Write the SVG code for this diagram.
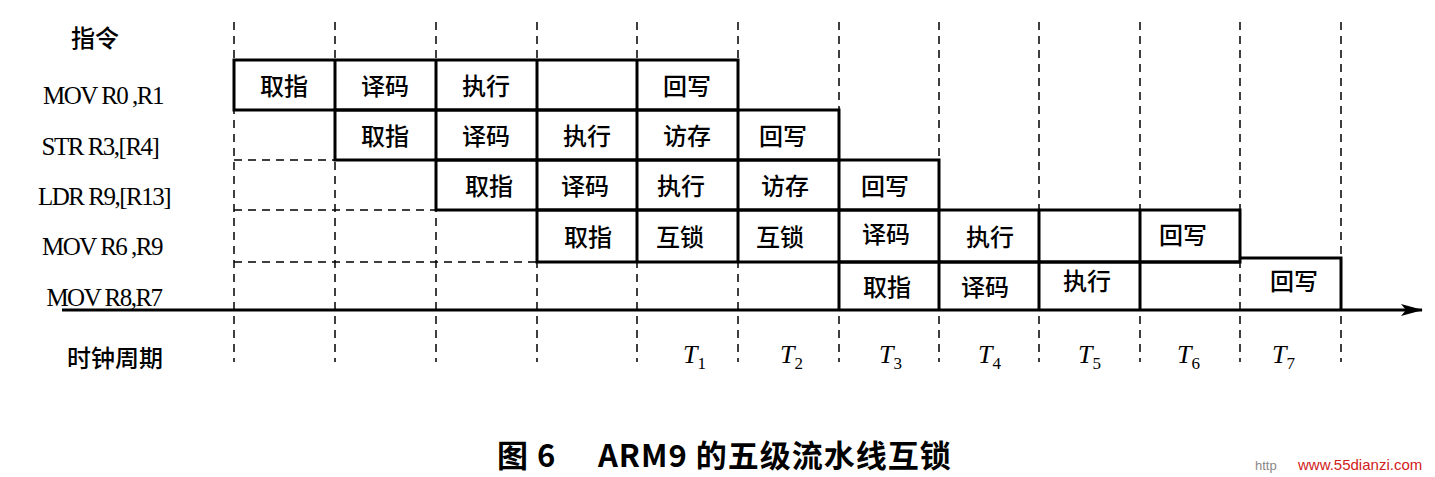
<svg xmlns="http://www.w3.org/2000/svg" width="1435" height="477" viewBox="0 0 1435 477">
<style>
.d{stroke:#000;stroke-width:1.5;stroke-dasharray:8,6;fill:none}
.s{stroke:#000;stroke-width:3;fill:none}
.c{font-family:"Noto Sans CJK SC",sans-serif;font-size:24px;font-weight:500;text-anchor:middle;fill:#000}
.i{font-family:"Liberation Serif",serif;font-size:25px;text-anchor:middle;fill:#000;letter-spacing:-1.5px}
.t{font-family:"Liberation Serif",serif;font-size:26px;font-style:italic;fill:#000}
.u{font-size:17px;font-style:normal}
.cap{font-family:"Noto Sans CJK SC",sans-serif;font-size:31px;font-weight:bold;fill:#000;letter-spacing:1px}
</style>
<defs><marker id="ar" markerWidth="22" markerHeight="12" refX="21" refY="6" orient="auto" markerUnits="userSpaceOnUse"><path d="M0,0 L22,6 L0,12 L5,6 z" fill="#000"/></marker></defs>
<rect width="1435" height="477" fill="#fff"/>
<g id="grid">
<path class="d" d="M234,22V362M335,22V362M436,22V362M537,22V362M637,22V362M738,22V362M839,22V362M939,22V362M1039,22V362M1140,22V362M1240,22V362M1341,22V362"/>
<path class="d" d="M234,160H335M234,210H436M234,262H537"/>
</g>
<g id="connectors">
<line x1="62" y1="310" x2="1422" y2="310" stroke="#000" stroke-width="3" marker-end="url(#ar)"/>
</g>
<g id="row1"><path class="s" d="M234,60H738V110H234ZM335,60V110M436,60V110M537,60V110M637,60V110"/>
<text class="c" x="284" y="95">取指</text><text class="c" x="385" y="95">译码</text><text class="c" x="486" y="95">执行</text><text class="c" x="687" y="95">回写</text></g>
<g id="row2"><path class="s" d="M335,110H839V160H335ZM436,110V160M537,110V160M637,110V160M738,110V160"/>
<text class="c" x="385" y="145">取指</text><text class="c" x="486" y="145">译码</text><text class="c" x="587" y="145">执行</text><text class="c" x="687" y="145">访存</text><text class="c" x="783" y="145">回写</text></g>
<g id="row3"><path class="s" d="M436,160H939V210H436ZM537,160V210M637,160V210M738,160V210M839,160V210"/>
<text class="c" x="489" y="195">取指</text><text class="c" x="585" y="195">译码</text><text class="c" x="681" y="195">执行</text><text class="c" x="785" y="195">访存</text><text class="c" x="885" y="195">回写</text></g>
<g id="row4"><path class="s" d="M537,210H1240V262H537ZM637,210V262M738,210V262M839,210V262M939,210V262M1039,210V262M1140,210V262"/>
<text class="c" x="588" y="246">取指</text><text class="c" x="680" y="246">互锁</text><text class="c" x="780" y="246">互锁</text><text class="c" x="886" y="243">译码</text><text class="c" x="990" y="246">执行</text><text class="c" x="1183" y="244">回写</text></g>
<g id="row5"><path class="s" d="M839,310V262H1240M1240,258H1341V310M939,262V310M1039,262V310M1140,262V310"/>
<text class="c" x="887" y="296">取指</text><text class="c" x="985" y="296">译码</text><text class="c" x="1087" y="290">执行</text><text class="c" x="1294" y="290">回写</text></g>
<g id="labels">
<text class="c" x="95" y="47">指令</text>
<text class="i" x="103" y="104">MOV R0 ,R1</text>
<text class="i" x="100" y="155">STR R3,[R4]</text>
<text class="i" x="104" y="205">LDR R9,[R13]</text>
<text class="i" x="102" y="255">MOV R6 ,R9</text>
<text class="i" x="104" y="306">MOV R8,R7</text>
<text class="c" x="115" y="367">时钟周期</text>
<text class="t" x="683" y="363">T<tspan class="u" dy="6">1</tspan></text>
<text class="t" x="780" y="363">T<tspan class="u" dy="6">2</tspan></text>
<text class="t" x="879" y="363">T<tspan class="u" dy="6">3</tspan></text>
<text class="t" x="978" y="363">T<tspan class="u" dy="6">4</tspan></text>
<text class="t" x="1078" y="363">T<tspan class="u" dy="6">5</tspan></text>
<text class="t" x="1177" y="363">T<tspan class="u" dy="6">6</tspan></text>
<text class="t" x="1272" y="363">T<tspan class="u" dy="6">7</tspan></text>
<text class="cap" x="497" y="467">图 6</text>
<text class="cap" x="598" y="467">ARM9 的五级流水线互锁</text>
<text x="1255" y="470" font-family="Liberation Sans,sans-serif" font-size="13" fill="#888">http</text>
<text x="1298" y="470" font-family="Liberation Sans,sans-serif" font-size="15" fill="#d02020">www.55dianzi.com</text>
</g>
</svg>
